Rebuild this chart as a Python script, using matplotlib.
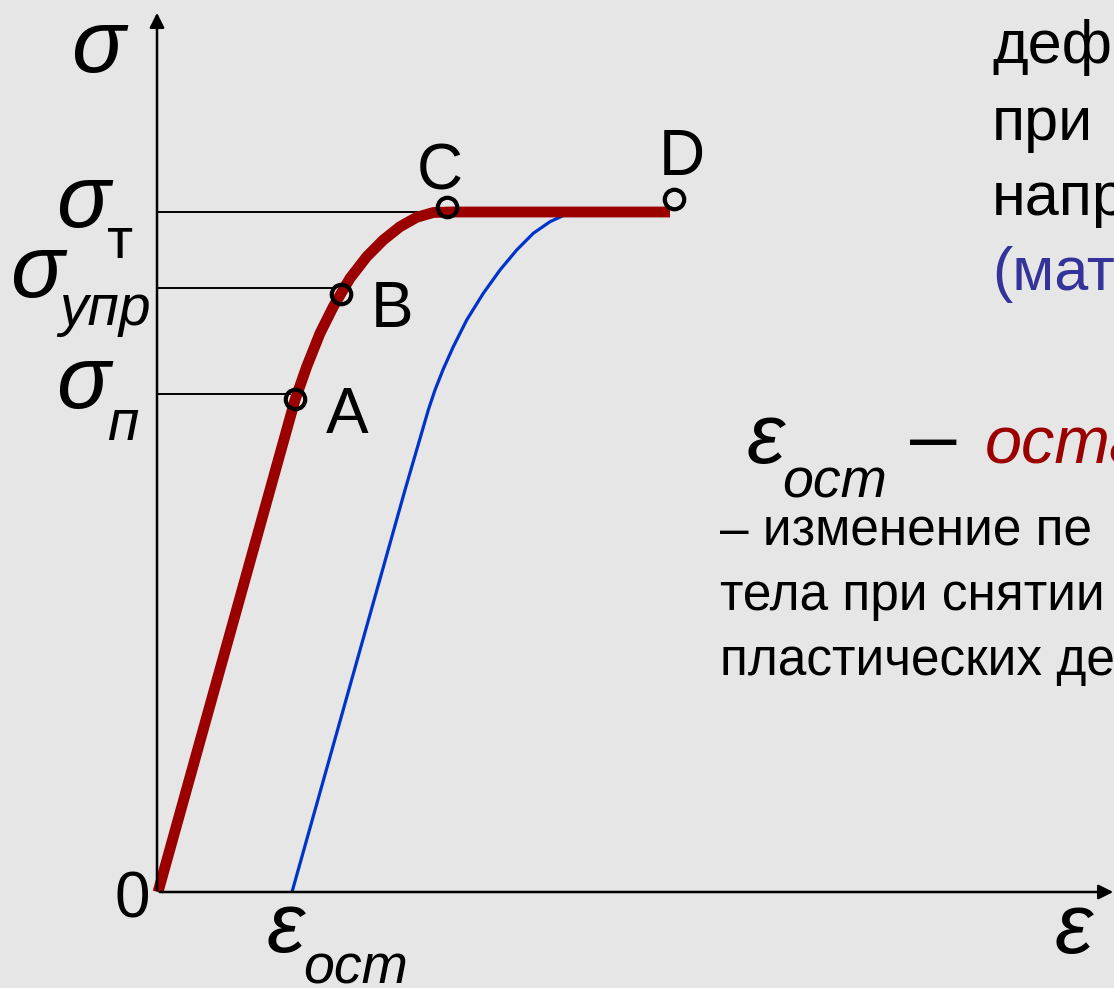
import matplotlib.pyplot as plt

plt.rcParams['font.family'] = ['Liberation Sans', 'DejaVu Sans']

# кривая нагружения (деформация, напряжение)
eps_load = [-2, 135, 146.7, 160, 173.3, 180.7, 190, 206.7, 223.3, 240, 256.7, 273.3, 290, 510]
sig_load = [-2, 490, 523.3, 556.7, 583.3, 596, 611.7, 633.3, 650, 663.3, 672.7, 677.5, 678, 678]

# кривая разгрузки / повторного нагружения
eps_unload = [132, 245, 268.3, 275, 283.3, 293.3, 306.7, 323.3, 340, 356.7, 373.3, 390, 406.7, 420, 432.7]
sig_unload = [-2, 400, 480, 500, 521, 543.3, 570, 596.7, 620, 640, 656.7, 668.3, 676, 677.7, 676]

# точки A, B, C, D
pt_names = ['A', 'B', 'C', 'D']
pt_eps = [135, 181, 287, 514]
pt_sig = [491, 596, 683, 691]

# уровни напряжений σп, σупр, σт и концы линий
lvl_sig = [496, 602, 678]
lvl_end = [130, 175, 280]

red = '#9b0000'
blue = '#0033cc'
navy = '#333399'

fig = plt.figure(figsize=(11.14, 9.88), dpi=100)
fig.patch.set_facecolor('#e6e6e6')
ax = fig.add_axes([0, 0, 1, 1])
ax.set_xlim(-160, 954)
ax.set_ylim(-98, 890)
ax.axis('off')

# оси
ax.annotate('', xy=(-3, 880), xytext=(-3, -3), annotation_clip=False,
            arrowprops=dict(arrowstyle='-|>', color='black', lw=1.8, mutation_scale=22))
ax.annotate('', xy=(956, -2), xytext=(-3, -2), annotation_clip=False,
            arrowprops=dict(arrowstyle='-|>', color='black', lw=1.8, mutation_scale=22))

for s, e in zip(lvl_sig, lvl_end):
    ax.plot([-3, e], [s, s], color='black', lw=1.4)

ax.plot(eps_unload, sig_unload, color=blue, lw=2.3, solid_capstyle='butt', solid_joinstyle='round')
ax.plot(eps_load, sig_load, color=red, lw=7.8, solid_capstyle='butt', solid_joinstyle='round')
ax.plot(pt_eps, pt_sig, 'o', ms=14, mfc='none', mec='black', mew=3)

# подписи точек
lbl_x = [187, 232, 280, 522]
lbl_y = [457, 563, 700, 715]
for n, x, y in zip(pt_names, lbl_x, lbl_y):
    ax.text(x, y, n, fontsize=46, ha='center', va='baseline')

gk = dict(fontsize=64, style='italic', ha='center', va='baseline')
sub = dict(fontsize=41, style='italic', ha='center', va='baseline')
ax.text(-62, 818, 'σ', **gk)
ax.text(-77, 663, 'σ', **gk)
ax.text(-40, 632, 'т', fontsize=41, ha='center', va='baseline')
ax.text(-123, 593, 'σ', **gk)
ax.text(-55, 565, 'упр', **sub)
ax.text(-77, 482, 'σ', **gk)
ax.text(-37, 450, 'п', **sub)
ax.text(-28, -27, '0', fontsize=46, ha='center', va='baseline')
ax.text(125, -62, 'ε', fontsize=62, style='italic', ha='center', va='baseline')
ax.text(196, -93, 'ост', fontsize=40, style='italic', ha='center', va='baseline')
ax.text(913, -63, 'ε', fontsize=62, style='italic', ha='center', va='baseline')

# текст справа
right_lines = ['деф', 'при', 'напр']
right_base = [827, 750, 675]
for t, y in zip(right_lines, right_base):
    ax.text(832, y, t, fontsize=44, ha='left', va='baseline')
ax.text(832, 600, '(мат', fontsize=44, color=navy, ha='left', va='baseline')

ax.text(605, 427, 'ε', fontsize=62, style='italic', ha='center', va='baseline')
ax.text(675, 393, 'ост', fontsize=40, style='italic', ha='center', va='baseline')
ax.text(750, 427, '–', fontsize=60, ha='left', va='baseline')
ax.text(825, 427, 'оста', fontsize=48, style='italic', color=red, ha='left', va='baseline')

def_lines = ['– изменение пе', 'тела при снятии', 'пластических де']
def_base = [345, 280, 215]
for t, y in zip(def_lines, def_base):
    ax.text(560, y, t, fontsize=37, ha='left', va='baseline')

fig.savefig('out.png', dpi=100, facecolor=fig.get_facecolor())
